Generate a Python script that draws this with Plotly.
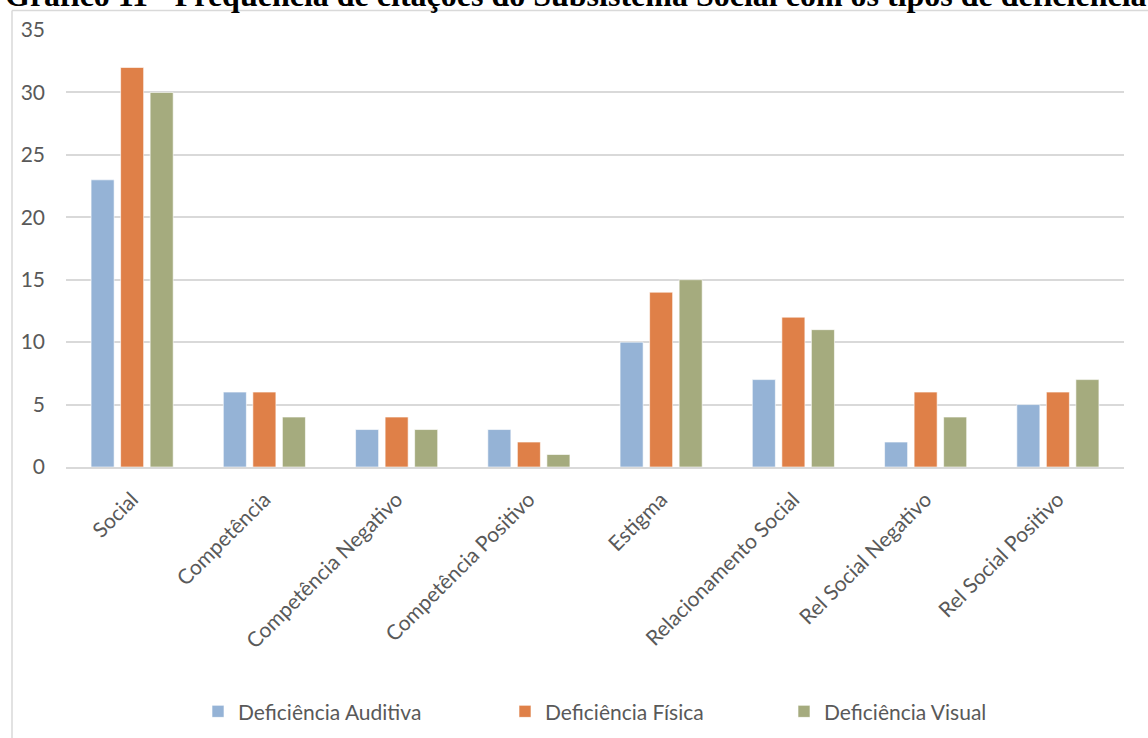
import plotly.graph_objects as go

categories = ["Social", "Competência", "Competência Negativo", "Competência Positivo",
              "Estigma", "Relacionamento Social", "Rel Social Negativo", "Rel Social Positivo"]
auditiva = [23, 6, 3, 3, 10, 7, 2, 5]
fisica = [32, 6, 4, 2, 14, 12, 6, 6]
visual = [30, 4, 3, 1, 15, 11, 4, 7]
series_names = ["Deficiência Auditiva", "Deficiência Física", "Deficiência Visual"]
y_ticks = [0, 5, 10, 15, 20, 25, 30, 35]

colors = ["#95B3D6", "#DF8048", "#A5AB7E"]
W, H = 1148, 738
L, R, T, B = 66, 1124, 29.5, 467  # plot area in pixels
PW, PH = R - L, B - T


def px_x(x):
    return (x - L) / PW


def px_y(y):
    return (B - y) / PH


fig = go.Figure()
legend_ids = ["legend", "legend2", "legend3"]
legend_x = [198, 505, 784]
for name, vals, col, lid in zip(series_names, [auditiva, fisica, visual], colors, legend_ids):
    fig.add_trace(go.Bar(
        x=categories, y=vals, name=name, legend=lid,
        marker=dict(color=col, line=dict(color="rgba(255,255,255,0.6)", width=1)),
    ))

font_main = "Lato, Open Sans, sans-serif"
text_gray = "#595959"
legend_common = dict(orientation="h", yanchor="middle", xanchor="left",
                     font=dict(family=font_main, size=21, color=text_gray),
                     bgcolor="rgba(0,0,0,0)", itemclick=False)

fig.update_layout(
    width=W, height=H,
    margin=dict(l=L, r=W - R, t=T, b=H - B, pad=0, autoexpand=False),
    paper_bgcolor="white", plot_bgcolor="white",
    barmode="group", bargap=0.33, bargroupgap=0.22,
    showlegend=True,
    legend=dict(x=px_x(legend_x[0]), y=px_y(712), **legend_common),
    legend2=dict(x=px_x(legend_x[1]), y=px_y(712), **legend_common),
    legend3=dict(x=px_x(legend_x[2]), y=px_y(712), **legend_common),
    xaxis=dict(
        tickangle=-45, showgrid=False, showline=True, linecolor="#D9D9D9", linewidth=2,
        ticks="", ticklabelstandoff=10, automargin=False,
        tickfont=dict(family=font_main, size=21, color=text_gray),
    ),
    yaxis=dict(
        range=[0, 35], tickvals=y_ticks, showgrid=True, gridcolor="#D9D9D9", gridwidth=1.5,
        zeroline=False, showline=False, ticks="", ticklabelstandoff=20, automargin=False,
        tickfont=dict(family=font_main, size=21, color=text_gray),
    ),
    shapes=[
        dict(type="line", xref="paper", yref="paper",
             x0=px_x(12), x1=px_x(12), y0=px_y(10), y1=px_y(H + 5),
             line=dict(color="#D9D9D9", width=1.5)),
        dict(type="line", xref="paper", yref="paper",
             x0=px_x(12), x1=px_x(W + 5), y0=px_y(10), y1=px_y(10),
             line=dict(color="#D9D9D9", width=1.5)),
    ],
    annotations=[
        dict(text="Gráfico 11 - Frequência de citações do Subsistema Social com os tipos de deficiência",
             xref="paper", yref="paper", x=px_x(3), y=px_y(14), xanchor="left", yanchor="bottom",
             showarrow=False,
             font=dict(family="Liberation Serif, Times New Roman, serif", size=32, color="black",
                       weight="bold")),
    ],
)

fig.write_html("out.html")
